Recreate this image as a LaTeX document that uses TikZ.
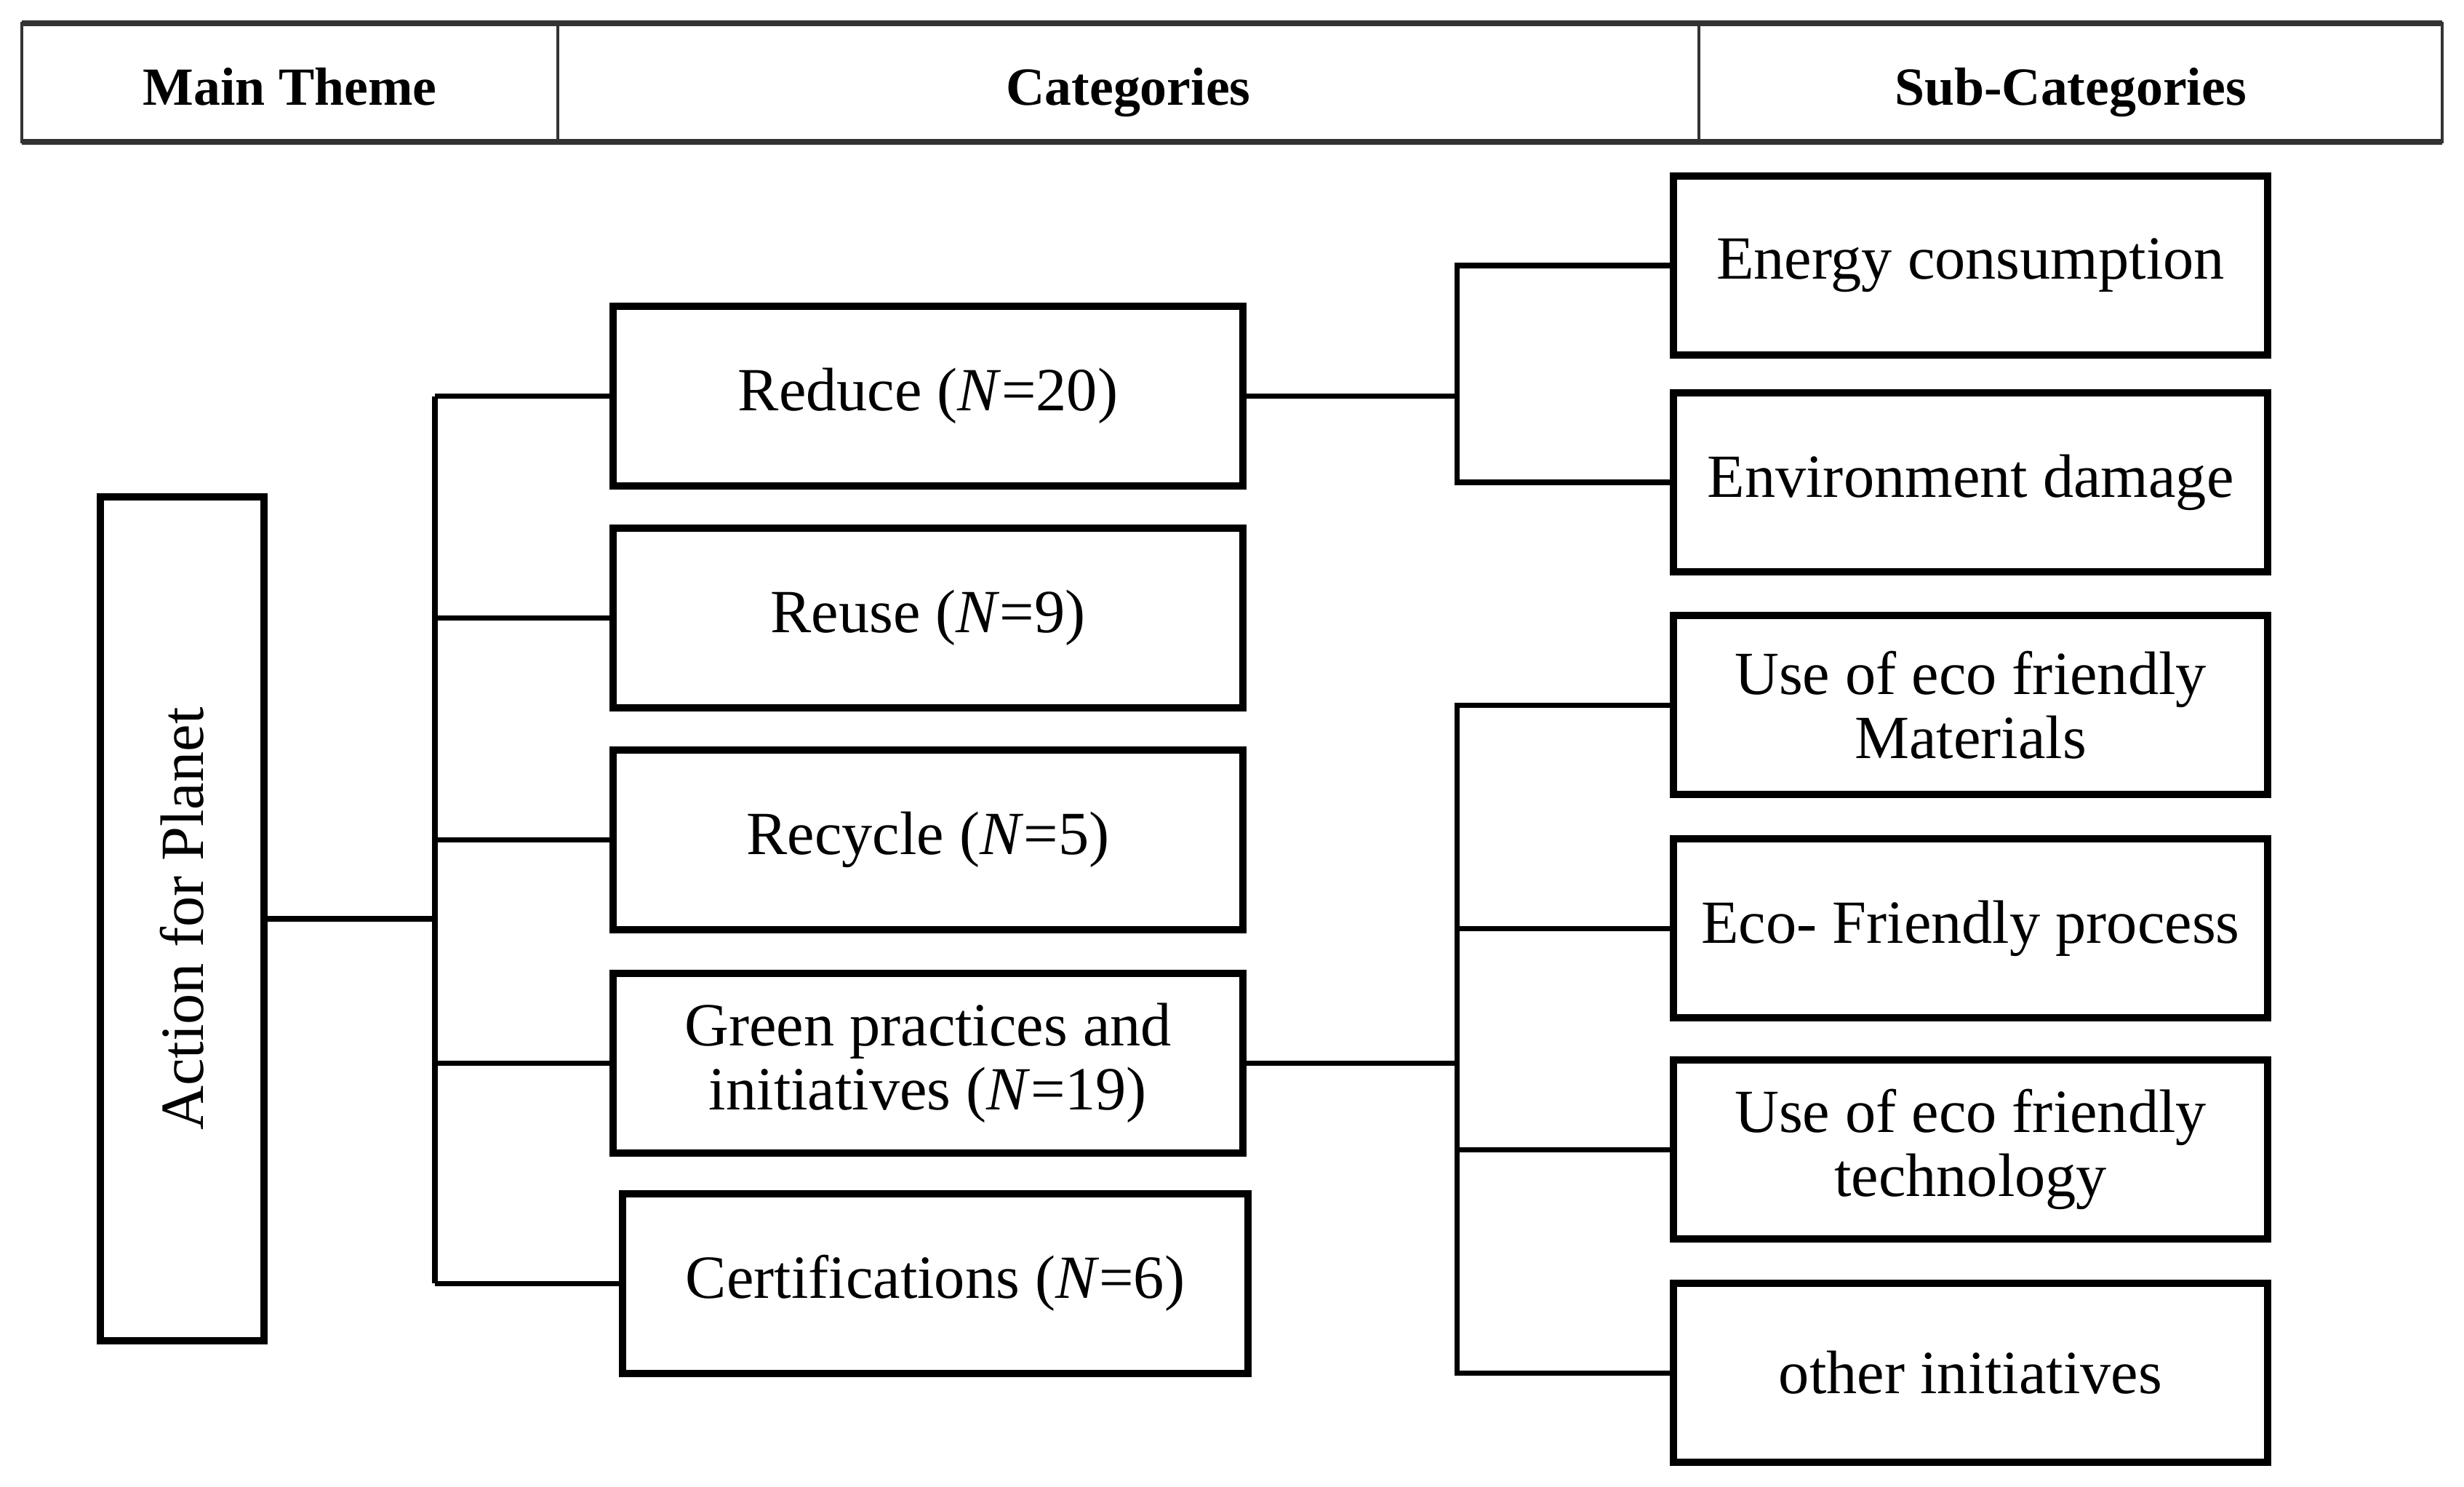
\documentclass[tikz,border=0pt]{standalone}
\usepackage{fontspec}
\setmainfont{Liberation Serif}
\usetikzlibrary{positioning}

\begin{document}
\begin{tikzpicture}[
  head/.style={draw=black!80, line width=1.4pt, outer sep=0pt, minimum height=1.63cm,
               text height=0.62cm, text depth=0cm,
               font=\fontsize{21}{24}\selectfont\bfseries},
  box/.style={draw, line width=0.1cm, outer sep=0pt, align=center,
              minimum height=2.47cm, font=\fontsize{24}{25}\selectfont},
  catbox/.style={box, minimum width=8.66cm},
  subbox/.style={box, minimum width=8.17cm, minimum height=2.46cm},
  link/.style={line width=2pt},
  node distance=0.58cm
]
\useasboundingbox (0,0) rectangle (33.88,-20.43);

% Header row
\node[head, minimum width=7.37cm] at (3.985,-1.135) (hmain) {Main Theme};
\node[head, minimum width=15.69cm, right=0pt of hmain] (hcat) {Categories};
\node[head, minimum width=10.22cm, right=0pt of hcat] (hsub) {Sub-Categories};
\draw[black!80, line width=2pt] (hmain.north west) -- (hsub.north east);
\draw[black!80, line width=2pt] (hmain.south west) -- (hsub.south east);

% Main theme
\node[box, minimum width=2.25cm, minimum height=11.6cm]
  at (2.505,-12.63) (action) {\rotatebox{90}{Action for Planet}};

% Categories
\node[catbox] at (12.76,-5.445) (reduce) {Reduce (\textit{N}=20)};
\node[catbox, below=of reduce] (reuse) {Reuse (\textit{N}=9)};
\node[catbox, below=of reuse] (recycle) {Recycle (\textit{N}=5)};
\node[catbox, below=0.6cm of recycle] (green) {Green practices and\\initiatives (\textit{N}=19)};
\node[catbox, minimum width=8.6cm] at (12.86,-17.64) (cert) {Certifications (\textit{N}=6)};

% Sub-categories
\node[subbox] at (27.095,-3.65) (energy) {Energy consumption};
\node[subbox, below=0.52cm of energy] (damage) {Environment damage};
\node[subbox] at (27.095,-9.69) (materials) {Use of eco friendly\\Materials};
\node[subbox, below=0.61cm of materials] (process) {Eco- Friendly process};
\node[subbox, below=of process] (techno) {Use of eco friendly\\technology};
\node[subbox, below=0.61cm of techno] (other) {other initiatives};

% Trunks
\coordinate (ltrunk) at (5.98,0);
\coordinate (rtrunk) at (20.03,0);

\draw[line width=2.3pt] (action) -- (action -| ltrunk);
\draw[link] (reduce.west -| ltrunk) -- (cert.west -| ltrunk);
\foreach \n in {reduce,reuse,recycle,green,cert}
  \draw[link] (\n.west -| ltrunk) -- (\n.west);

\draw[link] (reduce) -- (reduce -| rtrunk);
\draw[link] (energy.west) -- (energy.west -| rtrunk) -- (damage.west -| rtrunk) -- (damage.west);

\draw[link] (green) -- (green -| rtrunk);
\draw[link] (materials.west) -- (materials.west -| rtrunk) -- (other.west -| rtrunk) -- (other.west);
\foreach \n in {process,techno}
  \draw[link] (\n.west -| rtrunk) -- (\n.west);

\end{tikzpicture}
\end{document}
